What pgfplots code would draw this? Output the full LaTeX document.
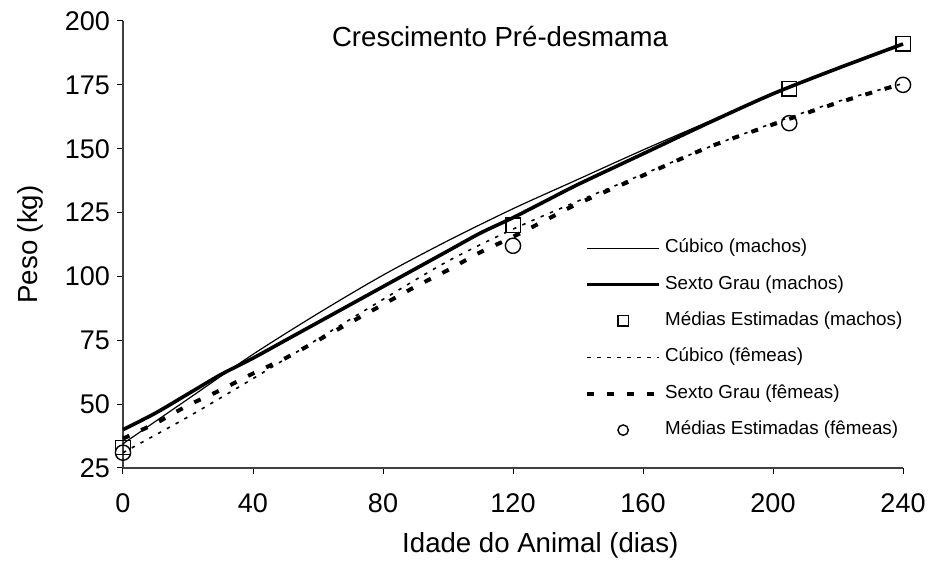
\documentclass[border=0pt]{standalone}
\usepackage{pgfplots}
\pgfplotsset{compat=1.18}
\usepackage{fontspec}
\setmainfont{Liberation Sans}
\begin{document}
\begin{tikzpicture}
\useasboundingbox (0,0) rectangle (468pt,280.5pt);
\begin{axis}[
  at={(61.5pt,46.5pt)}, anchor=south west,
  scale only axis, width=390pt, height=223.5pt,
  xmin=0, xmax=240, ymin=25, ymax=200,
  axis x line*=bottom, axis y line*=left,
  xtick={0,40,...,240}, ytick={25,50,...,200},
  tick align=outside, major tick length=3pt,
  tick style={black, line width=0.5pt},
  axis line style={line width=0.6pt, black!75},
  ticklabel style={font=\fontsize{13.5}{16}\selectfont},
  xticklabel style={yshift=-6.5pt},
  /pgf/number format/assume math mode=true,
  xlabel={Idade do Animal (dias)},
  ylabel={Peso (kg)},
  label style={font=\fontsize{13.8}{16}\selectfont},
  xlabel style={at={(rel axis cs:0.535,-0.190)}, anchor=base},
  ylabel style={at={(rel axis cs:-0.1192,0.5)}, anchor=center},
  clip=false,
  legend style={draw=none, fill=none, at={(rel axis cs:0.592,0.523)}, anchor=north west,
    inner sep=0pt, row sep=4.7pt, font=\fontsize{9.4}{11}\selectfont,
    nodes={inner sep=2pt, text height=7pt, text depth=2.5pt}},
  legend cell align=left,
  legend image code/.code={\draw[mark repeat=2,mark phase=2,#1] plot coordinates {(0pt,0pt) (18pt,0pt) (36pt,0pt)};},
]
\addplot[black, line width=0.6pt, smooth] coordinates {(0,34.5)(20,52)(40,69.5)(60,85.5)(80,100.5)(100,114)(120,126.5)(140,138)(160,149.5)(180,160.5)(200,171.5)(220,181.5)(240,191)};
\addlegendentry{Cúbico (machos)}
\addplot[black, line width=1.8pt, smooth] coordinates {(0,40)(10,46.5)(20,54)(30,61.5)(40,68)(50,75)(60,82)(70,89)(80,96)(90,103)(100,110)(110,117)(120,123)(130,129.5)(140,136)(160,148)(180,160)(200,171.5)(220,181.5)(240,191)};
\addlegendentry{Sexto Grau (machos)}
\addplot[black, /tikz/only marks, mark=square, mark size=3.6pt, mark options={line width=0.7pt},
  legend image post style={mark size=2.6pt}] coordinates {(0,33)(120,120)(205,173.5)(240,191)};
\addlegendentry{Médias Estimadas (machos)}
\addplot[black, line width=0.8pt, dash pattern=on 1.7pt off 3.3pt, smooth] coordinates {(0,31)(20,45)(40,60)(60,75.5)(80,91)(100,106)(120,118.5)(140,129.5)(160,140)(180,150.5)(200,160)(220,168.5)(240,175.5)};
\addlegendentry{Cúbico (fêmeas)}
\addplot[black, line width=2pt, dash pattern=on 3.5pt off 6.5pt, smooth] coordinates {(0,36.5)(10,42.5)(20,49.5)(30,55.5)(40,62)(50,68)(60,75)(70,82)(80,89)(90,96)(100,102.5)(110,109.5)(120,115.5)(130,122)(140,128.5)(160,139.5)(180,150.5)(200,159.5)(220,168)(240,175.5)};
\addlegendentry{Sexto Grau (fêmeas)}
\addplot[black, /tikz/only marks, mark=o, mark size=3.8pt, mark options={line width=0.7pt},
  legend image post style={mark size=2.6pt}] coordinates {(0,31)(120,112)(205,160)(240,175)};
\addlegendentry{Médias Estimadas (fêmeas)}
\node[font=\fontsize{13.8}{16}\selectfont] at (axis cs:116,194) {Crescimento Pré-desmama};
\end{axis}
\end{tikzpicture}
\end{document}
